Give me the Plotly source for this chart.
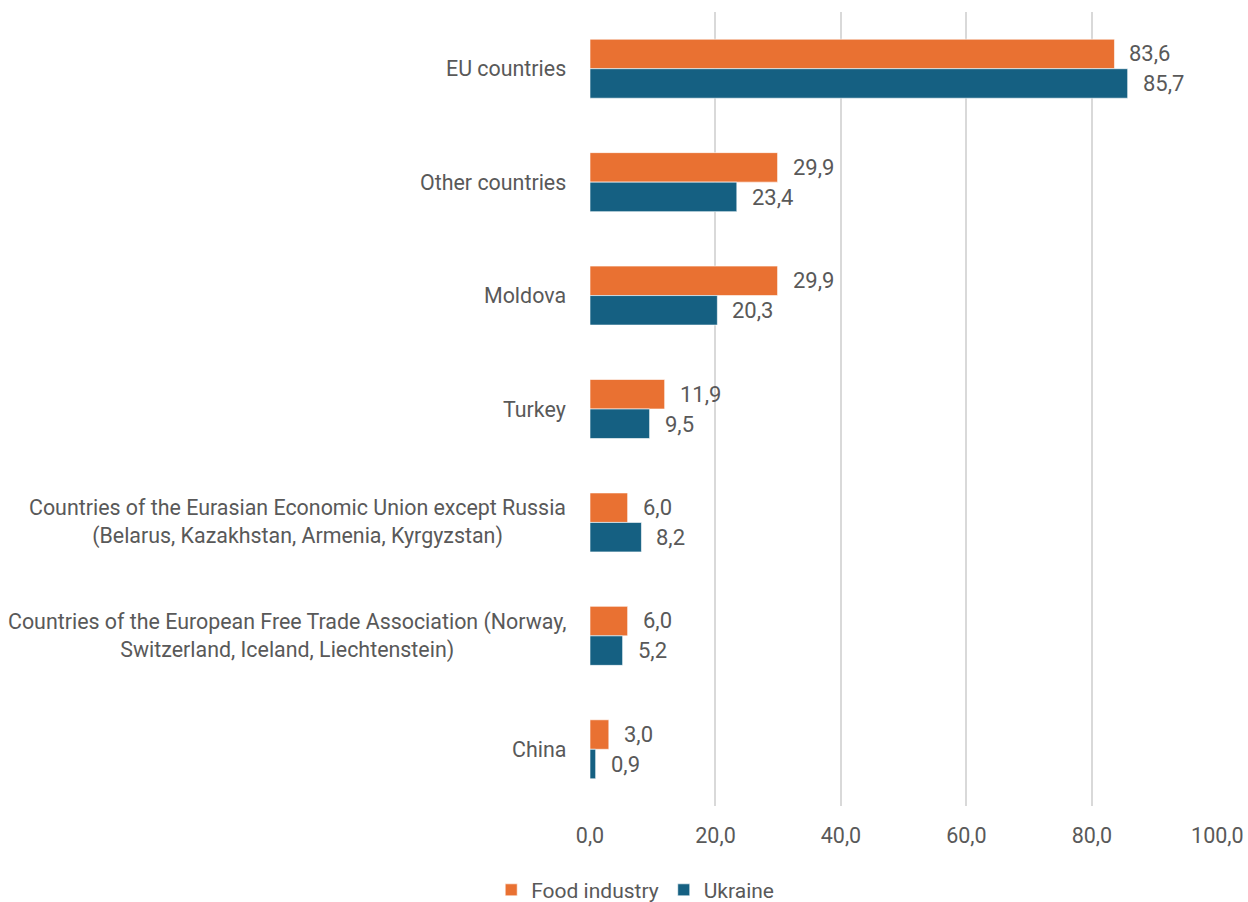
import plotly.graph_objects as go

categories = [
    "EU countries",
    "Other countries",
    "Moldova",
    "Turkey",
    "Countries of the Eurasian Economic Union except Russia<br>(Belarus, Kazakhstan, Armenia, Kyrgyzstan)",
    "Countries of the European Free Trade Association (Norway,<br>Switzerland, Iceland, Liechtenstein)",
    "China",
]
food_industry = [83.6, 29.9, 29.9, 11.9, 6.0, 6.0, 3.0]
ukraine = [85.7, 23.4, 20.3, 9.5, 8.2, 5.2, 0.9]
tick_vals = [0, 20, 40, 60, 80, 100]

ORANGE = "#E97132"
BLUE = "#156082"
TEXT = "#595959"
FONT = "Roboto"

fig = go.Figure()
fig.add_trace(go.Bar(name="Food industry", y=categories, x=food_industry, orientation="h",
                     marker=dict(color=ORANGE, line=dict(color="white", width=0.6))))
fig.add_trace(go.Bar(name="Ukraine", y=categories, x=ukraine, orientation="h",
                     marker=dict(color=BLUE, line=dict(color="white", width=0.6))))

annotations = []
for cat, v in zip(categories, food_industry):
    annotations.append(dict(x=v, y=cat, xref="x", yref="y", text=f"{v:.1f}".replace(".", ","),
                            showarrow=False, xanchor="left", yanchor="middle", xshift=13, yshift=15,
                            font=dict(family=FONT, size=22, color=TEXT)))
for cat, v in zip(categories, ukraine):
    annotations.append(dict(x=v, y=cat, xref="x", yref="y", text=f"{v:.1f}".replace(".", ","),
                            showarrow=False, xanchor="left", yanchor="middle", xshift=13, yshift=-15,
                            font=dict(family=FONT, size=22, color=TEXT)))
for cat in categories:
    annotations.append(dict(x=0, y=cat, xref="paper", yref="y", text=cat, showarrow=False,
                            xanchor="right", yanchor="middle", xshift=-22, align="center",
                            font=dict(family=FONT, size=21.4, color=TEXT)))

fig.update_layout(
    width=1248, height=902,
    margin=dict(l=590, r=30, t=12, b=96, autoexpand=False),
    paper_bgcolor="white", plot_bgcolor="white",
    barmode="group", bargap=0.48, bargroupgap=0,
    separators=",.",
    font=dict(family=FONT, size=21, color=TEXT),
    xaxis=dict(range=[0, 100.1], tickvals=tick_vals, tickformat=".1f", showgrid=True,
               gridcolor="#D9D9D9", gridwidth=1.5, zeroline=False, showline=False,
               tickfont=dict(family=FONT, size=21.5, color=TEXT), ticks="", ticklabelstandoff=14,
               ticklabeloverflow="allow"),
    yaxis=dict(autorange="reversed", showticklabels=False, ticks="", showgrid=False,
               zeroline=False, showline=False),
    legend=dict(orientation="h", x=0.072, xanchor="center", y=-0.106, yanchor="middle",
                font=dict(family=FONT, size=21, color=TEXT), traceorder="normal"),
    annotations=annotations,
)

fig.write_html("out.html", config={"displayModeBar": False},
               post_script="document.body.style.margin='0';document.body.style.overflow='hidden';")
